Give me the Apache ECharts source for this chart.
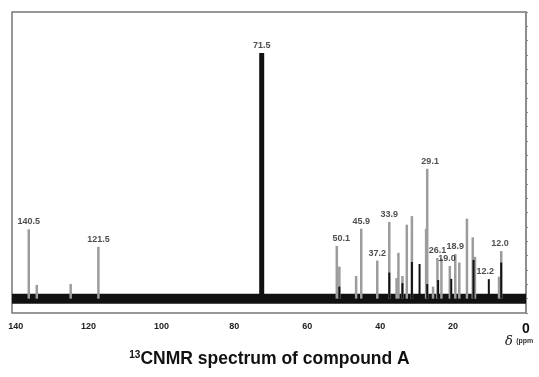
<!DOCTYPE html>
<html>
<head>
<meta charset="utf-8">
<script src="https://cdn.jsdelivr.net/npm/echarts@6/dist/echarts.min.js"></script>
<style>
html,body{margin:0;padding:0;background:#fff;}
#main{width:539px;height:377px;}
</style>
</head>
<body>
<div id="main"></div>
<script>
// chemical shift axis (ppm), reversed
var xTicks = [0, 20, 40, 60, 80, 100, 120, 140];

// light grey peaks: shift (ppm) and height
var grayPpm = [136.4, 134.2, 124.9, 117.3, 51.9, 51.2, 46.6, 45.2, 40.8, 37.5, 35.5, 35.0, 33.9, 32.7, 31.3, 27.1, 27.4, 25.5, 24.3, 23.2, 20.9, 19.4, 18.3, 16.2, 14.6, 14.0, 7.4, 6.8];
var grayH   = [24.2, 4.8, 5.1, 18.1, 18.4, 11.2, 7.9, 24.4, 13.3, 26.8, 7.2, 16.0, 7.9, 25.8, 28.8, 45.3, 24.4, 4.2, 14.2, 14.0, 11.4, 15.6, 12.6, 27.9, 21.4, 14.6, 7.7, 16.6];

// dark peaks
var blackPpm = [51.2, 37.5, 33.9, 31.3, 29.2, 27.1, 24.1, 20.5, 14.4, 10.2, 6.8];
var blackH   = [4.2, 9.1, 5.4, 12.8, 12.1, 5.1, 6.5, 6.9, 13.5, 6.8, 12.6];

// solvent peak
var solventPpm = [72.5];
var solventH = [85.7];

// peak labels
var labelText = ['140.5', '121.5', '71.5', '50.1', '45.9', '37.2', '33.9', '29.1', '26.1', '19.0', '18.9', '12.2', '12.0'];
var labelPpm  = [136.4, 117.3, 72.5, 50.7, 45.2, 40.8, 37.5, 26.3, 24.3, 21.7, 19.4, 11.2, 7.1];
var labelH    = [24.2, 18.1, 85.7, 18.4, 24.4, 13.3, 26.8, 45.3, 14.2, 11.4, 15.6, 6.8, 16.6];

var baseline = [[0, 0], [141, 0]];

function pairs(xs, ys) {
  var out = [];
  for (var i = 0; i < xs.length; i++) out.push([xs[i], ys[i]]);
  return out;
}

function stick(color, width) {
  return function (params, api) {
    var p0 = api.coord([api.value(0), 0]);
    var p1 = api.coord([api.value(0), api.value(1)]);
    return {
      type: 'line',
      shape: { x1: p0[0], y1: p0[1], x2: p1[0], y2: p1[1] },
      style: { stroke: color, lineWidth: width }
    };
  };
}

var chart = echarts.init(document.getElementById('main'));

var option = {
  animation: false,
  backgroundColor: '#fff',
  grid: { left: 12, right: 13, top: 12, bottom: 64, show: true, borderColor: '#777', borderWidth: 1.5 },
  xAxis: {
    type: 'value',
    inverse: true,
    min: 0,
    max: 141,
    interval: 20,
    axisLine: { show: true, lineStyle: { color: '#888', width: 1.5 } },
    axisTick: { show: true, length: 3, lineStyle: { color: '#888' } },
    minorTick: { show: true, splitNumber: 4, length: 2, lineStyle: { color: '#999' } },
    splitLine: { show: false },
    axisLabel: {
      margin: 9,
      fontFamily: 'Liberation Sans, Arial',
      fontWeight: 'bold',
      fontSize: 9,
      color: '#222',
      formatter: function (v) {
        if (xTicks.indexOf(v) < 0) return '';
        return v === 0 ? '{z|0}' : String(v);
      },
      rich: { z: { fontSize: 14, fontWeight: 'bold', color: '#111', fontFamily: 'Liberation Sans, Arial' } }
    }
  },
  yAxis: {
    type: 'value',
    position: 'right',
    min: -5,
    max: 100,
    interval: 5,
    axisLine: { show: true, lineStyle: { color: '#888', width: 1.5 } },
    axisTick: { show: true, length: 2, lineStyle: { color: '#888' } },
    axisLabel: { show: false },
    splitLine: { show: false }
  },
  graphic: [
    {
      type: 'text',
      left: 505,
      top: 335,
      style: {
        text: '{d|δ} {p|(ppm}',
        rich: {
          d: { fontFamily: 'DejaVu Serif, serif', fontStyle: 'italic', fontSize: 13, fill: '#111' },
          p: { fontFamily: 'Liberation Sans, Arial', fontWeight: 'bold', fontSize: 7, fill: '#333' }
        }
      }
    },
    {
      type: 'text',
      left: 'center',
      top: 350,
      style: {
        text: '{s|13}{t|CNMR spectrum of compound A}',
        rich: {
          s: { fontFamily: 'Liberation Sans, Arial', fontWeight: 'bold', fontSize: 10, fill: '#111', verticalAlign: 'top', padding: [0, 0, 7, 0] },
          t: { fontFamily: 'Liberation Sans, Arial', fontWeight: 'bold', fontSize: 17.5, fill: '#111' }
        }
      }
    }
  ],
  series: [
    {
      name: 'baseline',
      type: 'line',
      data: baseline,
      symbol: 'none',
      lineStyle: { color: '#111', width: 10 },
      z: 1
    },
    {
      name: 'grey',
      type: 'custom',
      renderItem: stick('#9c9c9c', 2.5),
      data: pairs(grayPpm, grayH),
      z: 2
    },
    {
      name: 'black',
      type: 'custom',
      renderItem: stick('#111', 2),
      data: pairs(blackPpm, blackH),
      z: 3
    },
    {
      name: 'solvent',
      type: 'custom',
      renderItem: stick('#111', 5),
      data: pairs(solventPpm, solventH),
      z: 3
    },
    {
      name: 'labels',
      type: 'scatter',
      symbolSize: 0,
      data: pairs(labelPpm, labelH),
      label: {
        show: true,
        position: 'top',
        distance: 3,
        fontFamily: 'Liberation Sans, Arial',
        fontWeight: 'bold',
        fontSize: 9,
        color: '#222',
        formatter: function (p) { return labelText[p.dataIndex]; }
      },
      z: 4
    }
  ]
};

chart.setOption(option);
window.addEventListener('resize', function () { chart.resize(); });
</script>
</body>
</html>
